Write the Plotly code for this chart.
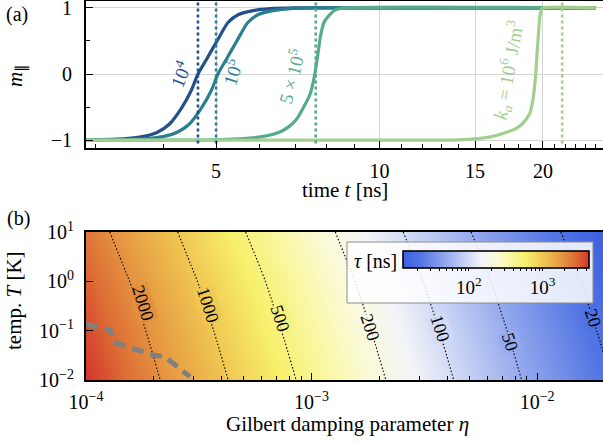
import numpy as np
import plotly.graph_objects as go
from plotly.colors import sample_colorscale

FONT = "Liberation Serif"

# ---------------- panel (a) data : switching curves m_par(t) ----------------
curve_labels = ["10<sup>4</sup>", "10<sup>5</sup>", "5 × 10<sup>5</sup>",
                "<i>k</i><sub><i>a</i></sub> = 10<sup>6</sup> J/m<sup>3</sup>"]
curve_colors = ["#234f8a", "#2a7e8e", "#55ab8b", "#a2cf8f"]

c1_t = [2.88, 3.2, 3.5, 3.7, 3.9, 4.1, 4.33, 4.5, 4.63, 4.8, 5.02, 5.26, 5.5, 5.85, 6.3, 7.0, 25.0]
c1_m = [-1.0, -0.99, -0.97, -0.94, -0.88, -0.76, -0.5, -0.25, 0.0, 0.22, 0.5, 0.78, 0.9, 0.96, 0.99, 1.0, 1.0]

c2_t = [2.88, 3.48, 3.81, 4.03, 4.24, 4.46, 4.71, 4.9, 5.04, 5.22, 5.46, 5.72, 5.98, 6.36, 6.85, 7.6, 25.0]
c2_m = [-1.0, -0.99, -0.97, -0.94, -0.88, -0.76, -0.5, -0.25, 0.0, 0.22, 0.5, 0.78, 0.9, 0.96, 0.99, 1.0, 1.0]

c3_t = [2.88, 5.0, 5.5, 6.0, 6.5, 6.8, 7.04, 7.25, 7.46, 7.6, 7.7, 7.78, 7.9, 8.1, 8.3, 8.6, 25.0]
c3_m = [-1.0, -0.995, -0.98, -0.955, -0.89, -0.8, -0.68, -0.5, -0.29, 0.0, 0.3, 0.56, 0.78, 0.9, 0.97, 1.0, 1.0]

c4_t = [2.88, 12.0, 14.0, 15.0, 16.0, 16.7, 17.3, 17.9, 18.4, 18.9, 19.16, 19.4, 19.5, 19.6, 19.73, 19.85, 20.0, 25.0]
c4_m = [-1.0, -1.0, -0.995, -0.98, -0.95, -0.91, -0.87, -0.82, -0.74, -0.6, -0.4, 0.0, 0.3, 0.55, 0.85, 0.96, 1.0, 1.0]

switch_times = [4.63, 5.0, 7.63, 21.7]      # dotted vertical markers

# ---------------- panel (b) data : switching time tau(eta, T) [ns] ----------------
eta = [1e-4, 1.5e-4, 2e-4, 3e-4, 5e-4, 7e-4, 1e-3, 1.5e-3, 2e-3, 3e-3, 5e-3, 7e-3, 1e-2, 1.5e-2, 2e-2]
temp = [1e-2, 1e-1, 1e0, 1e1]
tau = [
    [4270, 2847, 2135, 1423, 854, 610, 427, 284.7, 213.5, 142.3, 85.4, 61.0, 42.7, 28.5, 21.35],
    [3680, 2453, 1840, 1227, 736, 526, 368, 245.3, 184.0, 122.7, 73.6, 52.6, 36.8, 24.5, 18.4],
    [3120, 2080, 1560, 1040, 624, 446, 312, 208.0, 156.0, 104.0, 62.4, 44.6, 31.2, 20.8, 15.6],
    [2550, 1700, 1275, 850, 510, 364, 255, 170.0, 127.5, 85.0, 51.0, 36.4, 25.5, 17.0, 12.75],
]
contour_levels = [20, 50, 100, 200, 500, 1000, 2000]

boundary_eta = [1.0e-4, 1.28e-4, 1.32e-4, 1.98e-4, 2.24e-4, 2.89e-4]
boundary_T = [0.136, 0.103, 0.0596, 0.032, 0.0295, 0.0116]

cbar_ticks = [20, 30, 40, 50, 60, 70, 80, 90, 100, 200, 300, 400, 500, 600, 700, 800, 900,
              1000, 2000, 3000, 4000]
cbar_ticklabels = {100: "10<sup>2</sup>", 1000: "10<sup>3</sup>"}

colorscale = [
    [0.00, "#3b5fe0"], [0.10, "#5577e4"], [0.22, "#8ea4ec"], [0.33, "#c7d2f5"],
    [0.42, "#f3f4f8"], [0.50, "#fafad8"], [0.58, "#f9f7a0"], [0.66, "#f7ef6a"],
    [0.75, "#f0c852"], [0.85, "#e69a42"], [0.93, "#dd6c35"], [1.00, "#d2352a"],
]

fig = go.Figure()

# ---- panel (a)
for t, m, col in zip([c1_t, c2_t, c3_t, c4_t], [c1_m, c2_m, c3_m, c4_m], curve_colors):
    fig.add_trace(go.Scatter(x=t, y=m, mode="lines", xaxis="x", yaxis="y",
                             line=dict(color=col, width=3.2, shape="spline", smoothing=0.6),
                             showlegend=False, hoverinfo="skip"))
for ts, col in zip(switch_times, curve_colors):
    fig.add_trace(go.Scatter(x=[ts, ts], y=[-1.05, 1.11], mode="lines", xaxis="x", yaxis="y",
                             line=dict(color=col, width=2.6, dash="dot"),
                             showlegend=False, hoverinfo="skip"))

# ---- panel (b)
ltau = np.log10(np.array(tau, dtype=float))
zmin, zmax = float(ltau.min()), float(ltau.max())
fig.add_trace(go.Contour(
    x=eta, y=temp, z=ltau, xaxis="x2", yaxis="y2",
    colorscale=colorscale, zmin=zmin, zmax=zmax,
    contours=dict(coloring="heatmap", showlines=False, start=10, end=11, size=1),
    line=dict(width=0),
    colorbar=dict(
        orientation="h", x=(496 - 86) / 517, xanchor="center", xpad=0,
        y=(380 - 251) / 379, yanchor="top", ypad=0,
        len=(589 - 403) / 517, lenmode="fraction", thickness=17,
        outlinewidth=1.6, outlinecolor="black",
        tickvals=[float(np.log10(v)) for v in cbar_ticks],
        ticktext=[cbar_ticklabels.get(v, "") for v in cbar_ticks],
        ticks="outside", ticklen=3, tickwidth=1, tickcolor="black",
        tickfont=dict(family=FONT, size=19, color="black"),
    ),
    hoverinfo="skip",
))
for lev in contour_levels:
    lv = float(np.log10(lev))
    fig.add_trace(go.Contour(
        x=eta, y=temp, z=ltau, xaxis="x2", yaxis="y2", showscale=False,
        contours=dict(coloring="none", start=lv, end=lv, size=1, showlabels=False),
        line=dict(color="black", width=1.1, dash="1.5px,2px"),
        hoverinfo="skip",
    ))
fig.add_trace(go.Scatter(x=boundary_eta, y=boundary_T, mode="lines", xaxis="x2", yaxis="y2",
                         line=dict(color="#808080", width=5, dash="12px,7px"),
                         showlegend=False, hoverinfo="skip"))

tickfont = dict(family=FONT, size=20, color="black")
axcommon = dict(showline=True, linecolor="black", linewidth=2, ticks="inside",
                tickcolor="black", tickwidth=1.2, tickfont=tickfont, zeroline=False,
                automargin=False, ticklabeloverflow="allow")

x_minor_a = [3, 4, 6, 7, 8, 9, 11, 12, 13, 14, 16, 17, 18, 19, 21, 22, 23, 24, 25]
x_minor_b = [k * 10.0 ** e for e in (-4, -3, -2) for k in range(2, 10)]

fig.update_layout(
    template="none",
    width=603, height=442, margin=dict(l=86, r=0, t=1, b=62, autoexpand=False),
    paper_bgcolor="white", plot_bgcolor="white", showlegend=False,
    font=dict(family=FONT, size=20, color="black"),
    xaxis=dict(**axcommon, type="log", domain=[0, 1], anchor="y", mirror=True,
               range=[np.log10(2.88), np.log10(25.8)],
               tickvals=[5, 10, 15, 20], ticktext=["5", "10", "15", "20"], ticklen=7,
               showgrid=True, gridcolor="#d4d4d4", gridwidth=1, ticklabelstandoff=4,
               minor=dict(tickvals=x_minor_a, ticklen=4, ticks="inside", tickcolor="black",
                          showgrid=False)),
    yaxis=dict(**axcommon, domain=[0.612, 1.0], anchor="x", range=[-1.12, 1.105],
               tickvals=[-1, 0, 1], ticktext=["−1", "0", "1"], ticklen=7,
               showgrid=True, gridcolor="#d4d4d4", gridwidth=1, ticklabelstandoff=8,
               minor=dict(tickvals=[-0.5, 0.5], ticklen=4, ticks="inside", tickcolor="black",
                          showgrid=False)),
    xaxis2=dict(**axcommon, type="log", domain=[0, 1], anchor="y2", mirror=True,
                range=[-4, np.log10(0.0196)],
                tickvals=[1e-4, 1e-3, 1e-2],
                ticktext=["10<sup>−4</sup>", "10<sup>−3</sup>", "10<sup>−2</sup>"],
                ticklen=7, showgrid=False, ticklabelstandoff=3,
                minor=dict(tickvals=x_minor_b, ticklen=4, ticks="inside", tickcolor="black",
                           showgrid=False)),
    yaxis2=dict(**axcommon, type="log", domain=[0, 0.3905], anchor="x2", range=[-2, 1],
                tickvals=[1e-2, 1e-1, 1e0, 1e1],
                ticktext=["10<sup>−2</sup>", "10<sup>−1</sup>", "10<sup>0</sup>", "10<sup>1</sup>"],
                ticklen=7, showgrid=False, ticklabelstandoff=6),
)

def px2paper(px, py):
    return (px - 86) / 517, (380 - py) / 379

# white legend box behind colorbar
x0, y0 = px2paper(347, 303)
x1, y1 = px2paper(593, 242)
fig.add_shape(type="rect", xref="paper", yref="paper", x0=x0, y0=y0, x1=x1, y1=y1,
              fillcolor="rgba(255,255,255,0.85)", line=dict(color="#8c8c8c", width=1),
              layer="above")

ann = []
def add_text(px, py, text, size=20, angle=0, color="black", bg=None):
    x, y = px2paper(px, py)
    d = dict(x=x, y=y, xref="paper", yref="paper", text=text, showarrow=False,
             textangle=angle, xanchor="center", yanchor="middle",
             font=dict(family=FONT, size=size, color=color))
    if bg is not None:
        d.update(bgcolor=bg, borderpad=0)
    ann.append(d)

add_text(17, 14, "(a)")
add_text(18, 218, "(b)")
add_text(16, 76, "<i>m</i><sub>∥</sub>", size=21, angle=-90)
add_text(14, 301, "temp. <i>T</i> [K]", size=21, angle=-90)
add_text(345, 190, "time <i>t</i> [ns]", size=21)
add_text(347, 424, "Gilbert damping parameter <i>η</i>", size=21)
add_text(375, 261, "<i>τ</i> [ns]", size=20)

label_pos = [(180, 74, -68), (232, 72, -72), (291, 76, -75), (508, 70, -80)]
for (px, py, ang), txt, col in zip(label_pos, curve_labels, curve_colors):
    add_text(px, py, txt, size=19, angle=ang, color=col)

# inline contour labels (background = colour of the level itself, hides the line)
clabel_pos = {2000: (143, 303), 1000: (208, 305), 500: (280, 318), 200: (370, 327),
              100: (440, 328), 50: (510, 342), 20: (593, 318)}
for lev in contour_levels:
    px, py = clabel_pos[lev]
    frac = (np.log10(lev) - zmin) / (zmax - zmin)
    rgb = sample_colorscale(colorscale, [float(frac)])[0]
    bg = rgb.replace("rgb(", "rgba(").replace(")", ",0.8)")
    add_text(px, py, str(lev), size=18, angle=72, bg=bg)

fig.update_layout(annotations=ann)
fig.write_html("out.html", config={"displayModeBar": False},
               post_script="document.body.style.margin='0';document.body.style.padding='0';")
